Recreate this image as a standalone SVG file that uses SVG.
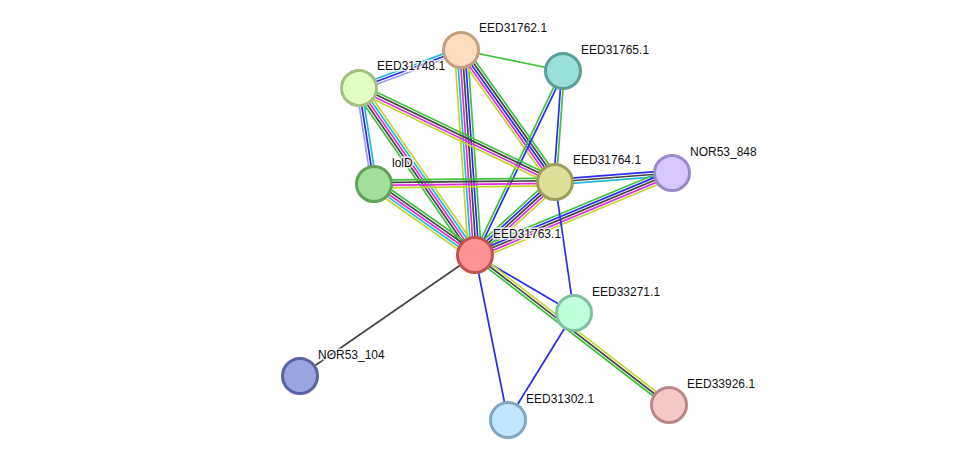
<svg xmlns="http://www.w3.org/2000/svg" width="976" height="466" viewBox="0 0 976 466">
<style>
line{stroke-width:1.7;fill:none}
.g{stroke:#3cc43c}.b{stroke:#2c2cf0}.c{stroke:#22bbd8}.m{stroke:#dd30dd}.k{stroke:#454545}.y{stroke:#c2d630}.l{stroke:#9c9cf0}
.n{stroke-width:3}
text{font-family:"Liberation Sans",Arial,sans-serif;font-size:12px;fill:#111;stroke:#fff;stroke-width:3px;paint-order:stroke;stroke-opacity:0.8}
</style>
<rect width="976" height="466" fill="#fff"/>
<g id="connectors">
<g transform="translate(461,50) rotate(11.63)"><line class="g" x1="0" y1="0" x2="104.1" y2="0"/></g>
<g transform="translate(359,88) rotate(-20.43)"><line class="c" x1="0" y1="-2.6" x2="108.8" y2="-2.6"/><line class="b" x1="0" y1="0" x2="108.8" y2="0"/><line class="l" x1="0" y1="2.6" x2="108.8" y2="2.6"/></g>
<g transform="translate(461,50) rotate(86.09)"><line class="y" x1="0" y1="6.5" x2="205.5" y2="6.5"/><line class="c" x1="0" y1="3.9" x2="205.5" y2="3.9"/><line class="m" x1="0" y1="1.3" x2="205.5" y2="1.3"/><line class="k" x1="0" y1="-1.3" x2="205.5" y2="-1.3"/><line class="b" x1="0" y1="-3.9" x2="205.5" y2="-3.9"/><line class="g" x1="0" y1="-6.5" x2="205.5" y2="-6.5"/></g>
<g transform="translate(461,50) rotate(54.54)"><line class="g" x1="0" y1="-5.2" x2="162" y2="-5.2"/><line class="k" x1="0" y1="-2.6" x2="162" y2="-2.6"/><line class="b" x1="0" y1="0" x2="162" y2="0"/><line class="m" x1="0" y1="2.6" x2="162" y2="2.6"/><line class="y" x1="0" y1="5.2" x2="162" y2="5.2"/></g>
<g transform="translate(563,71) rotate(94.12)"><line class="b" x1="0" y1="1.3" x2="111.3" y2="1.3"/><line class="g" x1="0" y1="-1.3" x2="111.3" y2="-1.3"/></g>
<g transform="translate(563,71) rotate(115.56)"><line class="g" x1="0" y1="1.3" x2="204" y2="1.3"/><line class="b" x1="0" y1="-1.3" x2="204" y2="-1.3"/></g>
<g transform="translate(359,88) rotate(25.62)"><line class="g" x1="0" y1="-3.9" x2="217.4" y2="-3.9"/><line class="k" x1="0" y1="-1.3" x2="217.4" y2="-1.3"/><line class="m" x1="0" y1="1.3" x2="217.4" y2="1.3"/><line class="y" x1="0" y1="3.9" x2="217.4" y2="3.9"/></g>
<g transform="translate(359,88) rotate(55.21)"><line class="g" x1="0" y1="5.2" x2="203.3" y2="5.2"/><line class="k" x1="0" y1="2.6" x2="203.3" y2="2.6"/><line class="m" x1="0" y1="0" x2="203.3" y2="0"/><line class="c" x1="0" y1="-2.6" x2="203.3" y2="-2.6"/><line class="y" x1="0" y1="-5.2" x2="203.3" y2="-5.2"/></g>
<g transform="translate(359,88) rotate(81.12)"><line class="l" x1="0" y1="2.6" x2="97.2" y2="2.6"/><line class="b" x1="0" y1="0" x2="97.2" y2="0"/><line class="c" x1="0" y1="-2.6" x2="97.2" y2="-2.6"/></g>
<g transform="translate(374,184) rotate(-0.63)"><line class="g" x1="0" y1="-3.9" x2="181" y2="-3.9"/><line class="k" x1="0" y1="-1.3" x2="181" y2="-1.3"/><line class="m" x1="0" y1="1.3" x2="181" y2="1.3"/><line class="y" x1="0" y1="3.9" x2="181" y2="3.9"/></g>
<g transform="translate(374,184) rotate(35.11)"><line class="y" x1="0" y1="5.2" x2="123.5" y2="5.2"/><line class="c" x1="0" y1="2.6" x2="123.5" y2="2.6"/><line class="m" x1="0" y1="0" x2="123.5" y2="0"/><line class="k" x1="0" y1="-2.6" x2="123.5" y2="-2.6"/><line class="g" x1="0" y1="-5.2" x2="123.5" y2="-5.2"/></g>
<g transform="translate(475,255) rotate(-42.38)"><line class="g" x1="0" y1="-5.2" x2="108.3" y2="-5.2"/><line class="b" x1="0" y1="-2.6" x2="108.3" y2="-2.6"/><line class="k" x1="0" y1="0" x2="108.3" y2="0"/><line class="m" x1="0" y1="2.6" x2="108.3" y2="2.6"/><line class="y" x1="0" y1="5.2" x2="108.3" y2="5.2"/></g>
<g transform="translate(555,182) rotate(-4.40)"><line class="b" x1="0" y1="-2.6" x2="117.3" y2="-2.6"/><line class="k" x1="0" y1="0" x2="117.3" y2="0"/><line class="c" x1="0" y1="2.6" x2="117.3" y2="2.6"/></g>
<g transform="translate(475,255) rotate(-22.60)"><line class="g" x1="0" y1="-5.2" x2="213.4" y2="-5.2"/><line class="b" x1="0" y1="-2.6" x2="213.4" y2="-2.6"/><line class="k" x1="0" y1="0" x2="213.4" y2="0"/><line class="m" x1="0" y1="2.6" x2="213.4" y2="2.6"/><line class="y" x1="0" y1="5.2" x2="213.4" y2="5.2"/></g>
<g transform="translate(555,182) rotate(81.75)"><line class="b" x1="0" y1="0" x2="132.4" y2="0"/></g>
<g transform="translate(475,255) rotate(30.36)"><line class="b" x1="0" y1="0" x2="114.7" y2="0"/></g>
<g transform="translate(475,255) rotate(37.71)"><line class="y" x1="0" y1="-2.6" x2="245.2" y2="-2.6"/><line class="k" x1="0" y1="0" x2="245.2" y2="0"/><line class="g" x1="0" y1="2.6" x2="245.2" y2="2.6"/></g>
<g transform="translate(475,255) rotate(78.69)"><line class="b" x1="0" y1="0" x2="168.3" y2="0"/></g>
<g transform="translate(574,313) rotate(121.67)"><line class="b" x1="0" y1="0" x2="125.7" y2="0"/></g>
<g transform="translate(475,255) rotate(145.34)"><line class="k" x1="0" y1="0" x2="212.8" y2="0"/></g>
</g>
<g id="EED31762.1"><circle class="n" cx="461" cy="50" r="17.5" fill="#ffdcbd" stroke="#c2a080"/><text x="479" y="32">EED31762.1</text></g>
<g id="EED31765.1"><circle class="n" cx="563" cy="71" r="17.5" fill="#98e0d8" stroke="#5a9e96"/><text x="581" y="54">EED31765.1</text></g>
<g id="EED31748.1"><circle class="n" cx="359" cy="88" r="17.5" fill="#e0ffc0" stroke="#a2c082"/><text x="377" y="70">EED31748.1</text></g>
<g id="lolD"><circle class="n" cx="374" cy="184" r="17.5" fill="#a0e09a" stroke="#62a05c"/><text x="392" y="167">lolD</text></g>
<g id="EED31764.1"><circle class="n" cx="555" cy="182" r="17.5" fill="#dede98" stroke="#9e9e5c"/><text x="573" y="164">EED31764.1</text></g>
<g id="NOR53_848"><circle class="n" cx="672" cy="173" r="17.5" fill="#d6c8ff" stroke="#9a88c8"/><text x="690" y="156">NOR53_848</text></g>
<g id="EED31763.1"><circle class="n" cx="475" cy="255" r="17.5" fill="#ff9292" stroke="#c05252"/><text x="493" y="238">EED31763.1</text></g>
<g id="EED33271.1"><circle class="n" cx="574" cy="313" r="17.5" fill="#c0ffdc" stroke="#80c09c"/><text x="592" y="296">EED33271.1</text></g>
<g id="NOR53_104"><circle class="n" cx="300" cy="376" r="17.5" fill="#9aa4e0" stroke="#5a64a0"/><text x="318" y="359">NOR53_104</text></g>
<g id="EED31302.1"><circle class="n" cx="508" cy="420" r="17.5" fill="#c0e6ff" stroke="#80a8c2"/><text x="526" y="403">EED31302.1</text></g>
<g id="EED33926.1"><circle class="n" cx="669" cy="405" r="17.5" fill="#f6c8c8" stroke="#b88888"/><text x="687" y="388">EED33926.1</text></g>
</svg>
